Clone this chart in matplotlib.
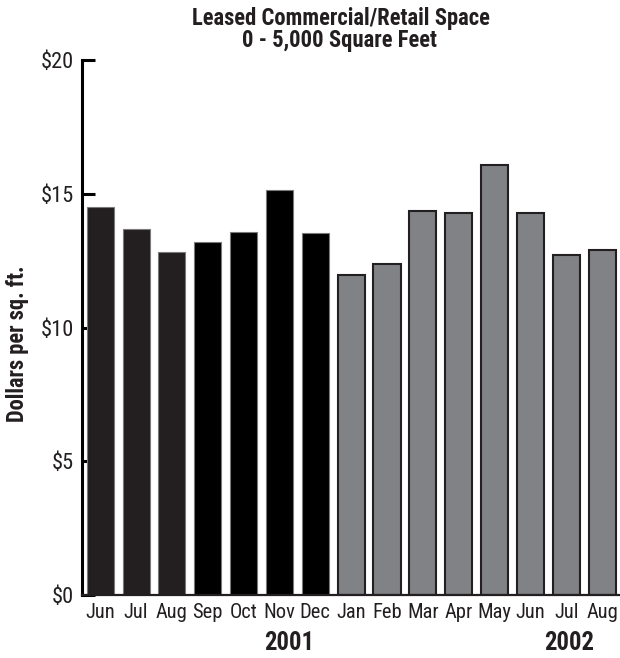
import matplotlib
matplotlib.use("Agg")
import matplotlib.pyplot as plt
from matplotlib import font_manager as fm

months = ["Jun", "Jul", "Aug", "Sep", "Oct", "Nov", "Dec",
          "Jan", "Feb", "Mar", "Apr", "May", "Jun", "Jul", "Aug"]
values = [14.51, 13.67, 12.84, 13.21, 13.56, 15.15, 13.55,
          11.98, 12.37, 14.35, 14.29, 16.08, 14.29, 12.70, 12.90]
years = ["2001", "2002"]
year_pos = [5.27, 13.07]
yticks = [0, 5, 10, 15, 20]
ytick_labels = ["$0", "$5", "$10", "$15", "$20"]
title1 = "Leased Commercial/Retail Space"
title2 = "0 - 5,000 Square Feet"
ylabel = "Dollars per sq. ft."

names = {f.name for f in fm.fontManager.ttflist}
fam = [n for n in ["Roboto Condensed", "Archivo Narrow"] if n in names] + ["DejaVu Sans"]
plt.rcParams["font.family"] = fam

face = ["#231f20"] * 3 + ["#000000"] * 4 + ["#808285"] * 8
edge = ["#7a7a7a"] * 7 + ["#231f20"] * 8
lw = [0.8] * 7 + [1.5] * 8

fig = plt.figure(figsize=(6.2, 6.58), dpi=100)
renderer = fig.canvas.get_renderer()


def fit_size(s, target_px, weight="normal"):
    t = fig.text(0, 0, s, fontsize=10, fontweight=weight)
    w = t.get_window_extent(renderer).width
    t.remove()
    return 10 * target_px / w


tick_fs = fit_size("Aug", 31.7)
ytick_fs = fit_size("$15", 33)
title_fs = fit_size(title1, 299, "bold")
year_fs = fit_size("2001", 50, "bold")
ylab_fs = fit_size(ylabel, 158, "bold")

ax = fig.add_axes([82.3 / 620, 63 / 658, (620 - 82.3) / 620, 535 / 658])
x = list(range(len(months)))
ax.bar(x, values, width=0.755, color=face, edgecolor=edge, linewidth=lw, zorder=3)
ax.set_xlim(-0.5, len(months) - 0.5)
ax.set_ylim(0, 20)
ax.set_yticks(yticks)
ax.set_yticklabels(ytick_labels, fontsize=ytick_fs, color="#231f20")
ax.set_xticks(x)
ax.set_xticklabels(months, fontsize=tick_fs, color="#231f20")
ax.tick_params(axis="y", direction="in", length=9, width=2.2, pad=6, color="#000000")
ax.tick_params(axis="x", length=0, pad=6)
for s in ["top", "right"]:
    ax.spines[s].set_visible(False)
ax.spines["left"].set_linewidth(2.2)
ax.spines["bottom"].set_linewidth(1.6)
ax.spines["bottom"].set_color("#231f20")
ax.spines["left"].set_zorder(4)
ax.spines["bottom"].set_zorder(4)

for yr, p in zip(years, year_pos):
    ax.text(p, (595 - 643) / 535, yr, transform=ax.get_xaxis_transform(), ha="center", va="center",
            fontsize=year_fs, fontweight="bold", color="#231f20")

fig.text(17.5 / 620, 1 - 344 / 658, ylabel, rotation=90, ha="center", va="center",
         fontsize=ylab_fs, fontweight="bold", color="#231f20")
fig.text(341 / 620, 1 - 25 / 658, title1, ha="center", va="baseline",
         fontsize=title_fs, fontweight="bold", color="#231f20")
fig.text(340 / 620, 1 - 47 / 658, title2, ha="center", va="baseline",
         fontsize=title_fs, fontweight="bold", color="#231f20")

fig.savefig("out.png", dpi=100)
